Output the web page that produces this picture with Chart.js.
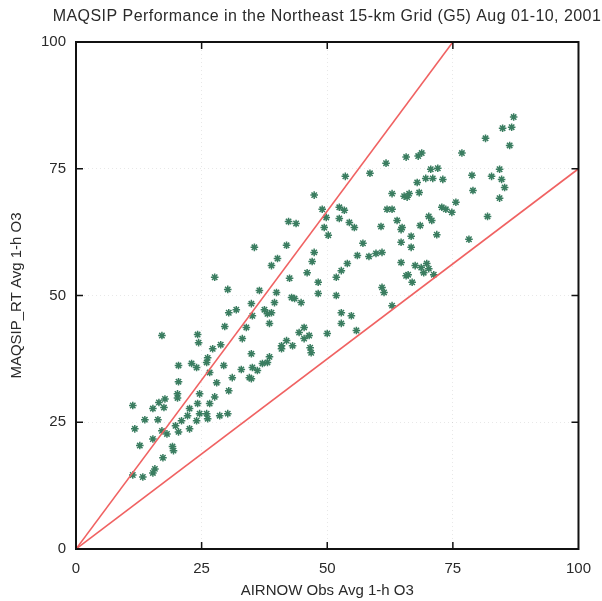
<!DOCTYPE html>
<html>
<head>
<meta charset="utf-8">
<script src="https://cdn.jsdelivr.net/npm/chart.js@4"></script>
<style>
  html, body { margin: 0; padding: 0; background: #ffffff; }
  #wrap { width: 602px; height: 601px; position: relative; }
</style>
</head>
<body>
<div id="wrap"><canvas id="c" width="602" height="601"></canvas></div>
<script>
const chartTitle = "MAQSIP Performance in the Northeast 15-km Grid (G5) Aug 01-10, 2001";
const xAxisTitle = "AIRNOW Obs Avg 1-h O3";
const yAxisTitle = "MAQSIP_RT Avg 1-h O3";
const tickValues = [0, 25, 50, 75, 100];

const obsO3 = [
  27.6, 30.2, 30.4, 31.9, 29.6, 17.1, 24.2, 24.4, 27.2, 28.8,
  26.2, 20.4, 23.0, 24.0, 26.0, 29.4, 26.6, 20.4, 28.0, 31.1,
  30.4, 20.2, 20.2, 24.6, 27.6, 11.3, 16.5, 17.7, 15.3, 17.5,
  24.2, 26.6, 22.6, 24.6, 22.2, 26.0, 28.6, 30.2, 13.7, 16.3,
  21.0, 24.0, 26.2, 11.7, 17.1, 18.1, 19.8, 20.4, 22.6, 15.3,
  19.2, 19.4, 12.7, 17.3, 15.7, 15.3, 11.3, 13.3,
  53.6, 58.5, 47.4, 49.0, 52.4, 53.4, 49.8, 52.4, 42.3, 43.8,
  54.4, 55.4, 49.4, 50.2, 57.1, 35.5, 41.9, 40.1, 38.9, 47.4,
  47.0, 56.0, 58.3, 59.7, 54.0, 52.8, 46.0, 42.5, 51.8,
  48.2, 36.5, 39.9, 42.9, 43.5, 44.8, 48.2, 51.8, 34.9, 39.5,
  37.5, 38.9, 38.1, 35.1, 38.5, 33.9, 52.8, 54.8, 52.8, 55.8,
  50.0, 45.4, 44.4, 46.4, 45.4, 33.1, 41.9, 40.9, 43.1, 40.9,
  46.6, 46.8, 34.9, 38.5, 38.1, 37.1, 35.1, 36.1, 32.9, 34.5, 34.9,
  87.1, 84.9, 86.7, 81.5, 86.3, 76.8, 61.7, 65.7, 68.1, 68.8,
  70.6, 72.0, 67.9, 69.6, 71.0, 73.0, 78.8, 82.7, 84.3, 84.7,
  85.3, 62.9, 65.3, 66.3, 65.9, 68.3, 79.0, 84.3, 75.6, 61.9,
  62.9, 72.8, 73.6, 74.8, 70.2, 70.8, 63.9, 64.9, 60.7, 68.5,
  81.9, 71.8, 66.7, 78.2, 66.7, 64.7, 60.9, 64.7, 67.5, 68.7,
  69.8, 70.2, 69.2, 71.2, 66.1, 66.9, 60.9, 61.3, 62.9, 64.7, 65.7
];
const modelO3 = [
  53.6, 51.2, 46.6, 47.2, 43.9, 42.1, 42.3, 40.7, 39.5, 40.3,
  37.7, 36.2, 36.6, 35.8, 36.8, 36.2, 34.8, 33.0, 32.8, 33.8,
  31.2, 30.6, 29.8, 30.6, 30.0, 28.3, 28.9, 29.6, 27.7, 27.9,
  28.7, 28.7, 27.7, 26.7, 26.3, 26.7, 26.3, 26.7, 25.5, 25.5,
  25.3, 25.3, 25.7, 23.7, 23.3, 22.7, 24.3, 23.1, 23.7, 21.7,
  20.2, 19.4, 20.4, 18.0, 15.8, 15.0, 14.6, 14.2,
  73.5, 74.1, 69.8, 67.0, 67.4, 66.8, 65.4, 65.2, 64.6, 64.2,
  64.4, 63.4, 63.4, 61.9, 60.3, 59.5, 59.9, 57.3, 55.9, 58.5,
  56.7, 57.9, 57.7, 58.3, 56.3, 54.9, 54.5, 53.4, 53.6,
  52.6, 51.0, 50.6, 49.6, 49.4, 48.6, 50.4, 50.0, 48.4, 48.6,
  47.2, 46.6, 46.4, 46.0, 44.5, 43.7, 46.6, 46.0, 44.5, 43.1,
  42.5, 43.7, 42.7, 42.1, 41.5, 41.5, 41.1, 40.1, 40.1, 39.5,
  39.7, 38.7, 38.5, 37.9, 36.8, 36.6, 35.8, 35.2, 35.4, 33.8, 33.6,
  85.2, 83.0, 83.2, 81.0, 79.6, 78.1, 76.1, 77.3, 77.5, 78.1,
  74.9, 75.1, 72.3, 73.1, 73.1, 72.9, 73.7, 73.5, 74.9, 72.9,
  71.3, 70.1, 69.6, 70.1, 69.4, 70.3, 70.7, 69.2, 68.4, 67.0,
  67.0, 67.4, 67.0, 66.4, 65.6, 64.8, 64.8, 63.4, 63.6, 63.8,
  65.6, 62.0, 61.7, 61.1, 59.5, 60.5, 58.5, 56.5, 55.9, 55.5,
  56.3, 55.3, 54.5, 54.1, 54.1, 52.6, 51.6, 50.6, 48.0, 63.0, 53.9
];

// Reference lines (ratio 4:3 and 3:4 through the origin)
const upperRefX = [0, 75];
const upperRefY = [0, 100];
const lowerRefX = [0, 100];
const lowerRefY = [0, 75];

const toPts = (xs, ys) => xs.map((x, i) => ({ x: x, y: ys[i] }));

const FONT = '"Liberation Sans", Arial, Helvetica, sans-serif';
const TEXT = '#2a2a2a';

const framePlugin = {
  id: 'frame',
  afterDraw(chart) {
    const { ctx, chartArea: a, scales } = chart;
    ctx.save();
    // title
    ctx.fillStyle = TEXT;
    ctx.font = '16px ' + FONT;
    if ('letterSpacing' in ctx) ctx.letterSpacing = '0.45px';
    ctx.textAlign = 'center';
    ctx.textBaseline = 'middle';
    ctx.fillText(chartTitle, 327, 17);
    if ('letterSpacing' in ctx) ctx.letterSpacing = '0px';
    // frame
    ctx.strokeStyle = '#111';
    ctx.lineWidth = 2;
    ctx.strokeRect(a.left, a.top, a.right - a.left, a.bottom - a.top);
    // inward tick marks
    ctx.lineWidth = 1.5;
    const len = 7;
    tickValues.slice(1, -1).forEach(v => {
      const px = scales.x.getPixelForValue(v);
      const py = scales.y.getPixelForValue(v);
      ctx.beginPath();
      ctx.moveTo(px, a.bottom); ctx.lineTo(px, a.bottom - len);
      ctx.moveTo(px, a.top); ctx.lineTo(px, a.top + len);
      ctx.moveTo(a.left, py); ctx.lineTo(a.left + len, py);
      ctx.moveTo(a.right, py); ctx.lineTo(a.right - len, py);
      ctx.stroke();
    });
    ctx.restore();
  }
};

const axisCommon = {
  type: 'linear',
  min: 0,
  max: 100,
  afterBuildTicks: s => { s.ticks = tickValues.map(v => ({ value: v })); },
  grid: { color: 'rgba(0,0,0,0.09)', lineWidth: 1, drawTicks: false },
  border: { display: false, dash: [1, 3] },
};

new Chart(document.getElementById('c'), {
  data: {
    datasets: [
      {
        type: 'line',
        label: 'upper',
        data: toPts(upperRefX, upperRefY),
        borderColor: '#f06262',
        borderWidth: 1.6,
        pointRadius: 0,
        fill: false,
        order: 1
      },
      {
        type: 'line',
        label: 'lower',
        data: toPts(lowerRefX, lowerRefY),
        borderColor: '#f06262',
        borderWidth: 1.6,
        pointRadius: 0,
        fill: false,
        order: 1
      },
      {
        type: 'scatter',
        label: 'O3',
        data: toPts(obsO3, modelO3),
        pointStyle: 'star',
        pointRadius: 3.8,
        pointBorderWidth: 1.5,
        borderColor: '#3a7d60',
        backgroundColor: '#3a7d60',
        order: 2
      }
    ]
  },
  options: {
    responsive: false,
    animation: false,
    devicePixelRatio: 1,
    layout: { padding: { top: 42, right: 20, left: 0, bottom: 0 } },
    plugins: { legend: { display: false }, tooltip: { enabled: false }, title: { display: false } },
    scales: {
      x: Object.assign({}, axisCommon, {
        afterFit: s => { s.height = 52; },
        ticks: { color: TEXT, font: { family: FONT, size: 15 }, padding: 11, maxRotation: 0 },
        title: { display: true, text: xAxisTitle, color: TEXT, font: { family: FONT, size: 15 }, padding: { top: 0, bottom: 1 } }
      }),
      y: Object.assign({}, axisCommon, {
        afterFit: s => { s.width = 76; },
        ticks: { color: TEXT, font: { family: FONT, size: 15 }, padding: 10 },
        title: { display: true, text: yAxisTitle, color: TEXT, font: { family: FONT, size: 15 }, padding: { top: 8, bottom: 0 } }
      })
    }
  },
  plugins: [framePlugin]
});
</script>
</body>
</html>
